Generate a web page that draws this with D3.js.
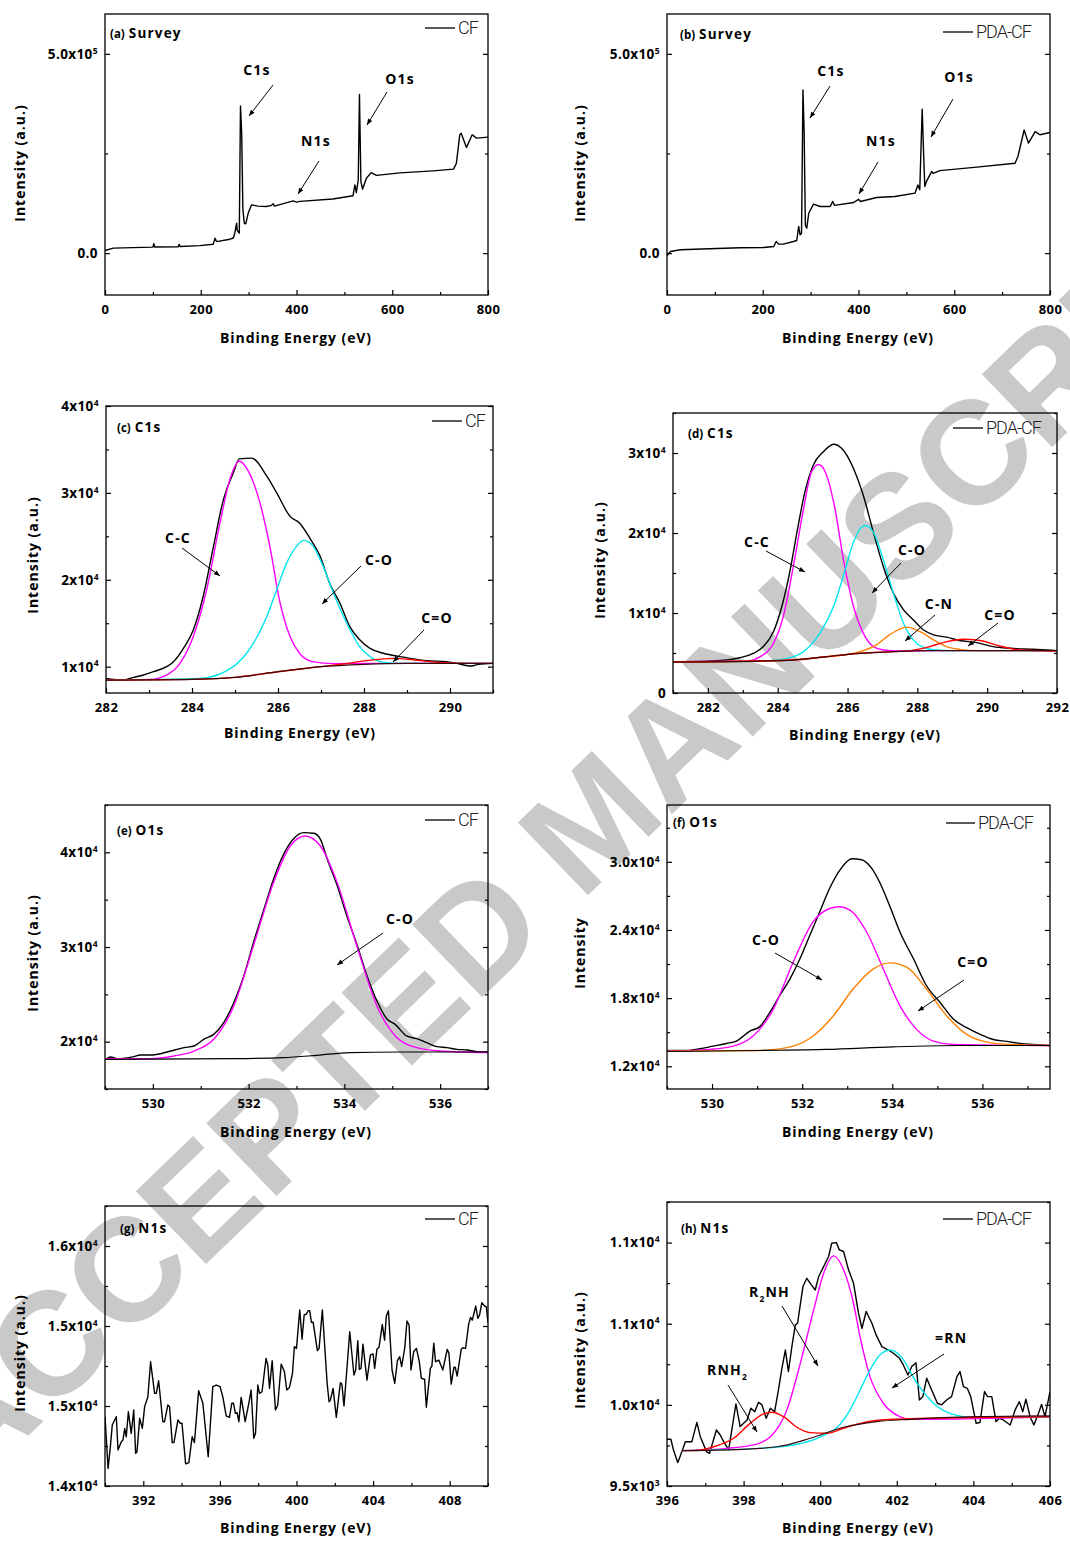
<!DOCTYPE html>
<html><head><meta charset="utf-8">
<script src="https://cdn.jsdelivr.net/npm/d3@7"></script>
<style>body{margin:0;background:#fff}svg{display:block}</style>
</head><body>
<svg id="chart" width="1070" height="1541"></svg>
<script>
// ---------------- DATA ----------------
// (a) survey CF
const surveyCF = [[0,6700],[17,12500],[100,15000],[102,24000],[104,15500],[153,16000],[155,22000],[157,16500],[198,19000],[226,22500],[230,37600],[233,29000],[261,35000],[268,38000],[271,50000],[275,75000],[276,58000],[280.5,50000],[283,369600],[285.5,300000],[288,110000],[291,75000],[294,73500],[299,100000],[306,121000],[320,118000],[337,117000],[348,120000],[351,124000],[354,118000],[393,131000],[400,128000],[407,130000],[476,136000],[518,144000],[522,171000],[525,152000],[529,184000],[531.5,398000],[534.5,180000],[538,160500],[546,188000],[556,202000],[567,195000],[616,201500],[685,206500],[728,210700],[734,225700],[741,296800],[744,301000],[755,265000],[767,297000],[776,288500],[800,291000]];
// (b) survey PDA-CF
const surveyPDA = [[0,-6700],[7,4200],[28,8400],[104,11700],[153,13400],[202,14200],[223,16700],[228,29300],[233,22600],[243,22600],[264,29300],[271,31800],[275,66900],[278,46000],[281,50000],[284,409700],[286.5,300000],[289,70000],[292,62700],[296,100000],[306,123000],[320,117000],[341,117000],[346,129600],[350,120000],[390,127000],[400,135000],[404,129600],[438,139600],[476,142000],[518,150500],[524,171000],[528,159000],[533,361000],[536,250000],[538.5,167000],[542,180000],[553,205000],[556,200000],[570,207000],[647,215700],[727,225700],[733,242500],[746,309000],[755,276000],[769,305000],[779,297000],[800,302600]];
// (c) C1s CF
const cfC1sEnvelope = [[282,8650],[282.4,8460],[282.64,8770],[282.87,9040],[283.1,9420],[283.41,10000],[283.57,10580],[283.8,12100],[284.03,14230],[284.26,18080],[284.5,23850],[284.73,29230],[284.96,32300],[285.1,33920],[285.39,34000],[285.74,31920],[285.97,30000],[286.28,27300],[286.5,26540],[286.74,24800],[286.98,22700],[287.2,19600],[287.44,17300],[287.67,14600],[287.9,13100],[288.14,12100],[288.45,11540],[288.84,11150],[289.07,10960],[289.46,10700],[289.92,10580],[290.16,10380],[290.5,10080],[290.66,10270],[291,10380]];
const cfC1sCC = [[282,8460],[283.02,8540],[283.41,9040],[283.72,10380],[284.03,13460],[284.34,18850],[284.65,26540],[284.88,31540],[285.1,33650],[285.3,32600],[285.58,28850],[285.81,23850],[286.05,17300],[286.28,13460],[286.5,11540],[286.8,10580],[287.3,10350],[288,10380],[291,10380]];
const cfC1sCO = [[282,8460],[284.19,8650],[284.96,10000],[285.43,12700],[285.74,15770],[285.97,18850],[286.2,21920],[286.43,23850],[286.6,24540],[286.82,23850],[287.05,21540],[287.29,18460],[287.6,15000],[287.9,12300],[288.2,10960],[288.53,10460],[288.84,10380],[291,10380]];
const cfC1sCdO = [[282,8460],[284,8540],[285,8770],[286,9420],[287,10000],[287.5,10300],[288.06,10690],[288.68,10960],[289.2,10770],[289.77,10460],[290.4,10380],[291,10380]];
const cfC1sBg = [[282,8460],[283,8480],[284,8540],[285,8770],[286,9420],[287,10000],[288,10270],[289,10380],[291,10380]];
// (d) C1s PDA-CF
const pdaC1sEnvelope = [[281,3910],[282,3990],[282.54,4120],[282.92,4410],[283.3,4960],[283.59,5800],[283.88,7690],[284.12,10840],[284.36,15460],[284.55,20090],[284.78,25130],[285.02,28490],[285.31,30170],[285.6,31100],[285.83,30590],[286.17,28070],[286.45,24710],[286.74,20090],[287.02,15880],[287.31,12520],[287.6,10420],[287.88,9160],[288.17,7900],[288.46,7270],[288.84,6980],[289.2,6560],[289.7,6300],[290.17,5800],[290.65,5590],[291.3,5460],[292,5300]];
const pdaC1sCC = [[281,3910],[283.1,3990],[283.5,4540],[283.88,6220],[284.16,9580],[284.45,15880],[284.74,23030],[284.97,27650],[285.17,28570],[285.4,27230],[285.64,23030],[285.88,16720],[286.17,10840],[286.45,7480],[286.74,5800],[287.02,5380],[287.5,5250],[288.5,5300],[292,5300]];
const pdaC1sCO = [[281,3870],[283.5,4000],[284.26,4330],[284.74,5170],[285.21,7480],[285.6,10840],[285.88,14620],[286.17,18830],[286.36,20510],[286.5,20930],[286.74,20090],[287.02,16720],[287.31,12520],[287.6,8740],[287.88,6640],[288.17,5710],[288.55,5380],[289,5300],[292,5300]];
const pdaC1sCN = [[281,3870],[284,4050],[285.4,4540],[285.88,4750],[286.36,5170],[286.83,6010],[287.2,7270],[287.7,8240],[288.07,7690],[288.46,6640],[288.84,5800],[289.2,5460],[289.7,5300],[292,5300]];
const pdaC1sCdO = [[281,3870],[284.45,4120],[285.4,4540],[286.36,4960],[287.31,5170],[287.8,5300],[288.27,5710],[288.74,6300],[289.3,6720],[289.8,6560],[290.36,5880],[290.93,5380],[292,5250]];
const pdaC1sBg = [[281,3870],[283.5,3990],[284.45,4120],[285.4,4540],[286.36,4960],[287.31,5170],[288.27,5300],[292,5300]];
// (e) O1s CF
const cfO1sEnvelope = [[529,18130],[529.03,18200],[529.12,18380],[529.26,18200],[529.6,18420],[529.74,18590],[529.95,18590],[530.16,18730],[530.37,19010],[530.65,19370],[530.86,19540],[531.06,20250],[531.27,20770],[531.48,22010],[531.69,24120],[531.9,26940],[532.1,30460],[532.32,33980],[532.52,37150],[532.73,39790],[532.94,41440],[533.15,42080],[533.36,42010],[533.5,41370],[533.64,39300],[533.85,36500],[534.05,33300],[534.26,30300],[534.47,27000],[534.68,24300],[534.89,22400],[535.06,21830],[535.3,20600],[535.51,20320],[535.72,19890],[535.93,19470],[536.14,19370],[536.35,19190],[536.56,19120],[536.77,18940],[537,18910]];
const cfO1sCO = [[529,18200],[529.95,18200],[530.44,18490],[530.86,19010],[531.27,20250],[531.69,23770],[532.1,30110],[532.52,36800],[532.87,40670],[533.18,41720],[533.5,40670],[533.85,36800],[534.26,30110],[534.68,23770],[535.1,20420],[535.51,19370],[536,19010],[537,18840]];
const cfO1sBg = [[529,18130],[531.69,18200],[532.73,18310],[533.43,18560],[534.12,18840],[535.17,18910],[537,18910]];
// (f) O1s PDA-CF
const pdaO1sEnvelope = [[529,13390],[529.43,13390],[529.73,13540],[530.02,13770],[530.32,14010],[530.54,14220],[530.84,15100],[531.06,15490],[531.28,16730],[531.5,18210],[531.73,19690],[531.95,21460],[532.17,23530],[532.39,25600],[532.61,27670],[532.84,29290],[533.1,30270],[533.32,30180],[533.54,29440],[533.73,28110],[533.95,26040],[534.17,23820],[534.47,21460],[534.76,19090],[535.06,17620],[535.36,16140],[535.65,15400],[535.95,14810],[536.24,14360],[536.54,14190],[536.84,14010],[537.13,13920],[537.5,13830]];
const pdaO1sCO = [[529,13330],[529.95,13480],[530.47,13770],[530.91,14660],[531.36,17030],[531.8,21160],[532.24,24710],[532.61,25890],[532.82,26040],[533.06,25750],[533.43,23820],[533.8,20570],[534.17,17320],[534.54,15250],[534.91,14220],[535.36,13920],[537.5,13830]];
const pdaO1sCdO = [[529,13330],[531.06,13390],[531.8,13770],[532.24,14660],[532.69,16430],[533.13,18800],[533.58,20570],[533.95,21100],[534.32,20720],[534.76,18800],[535.21,16430],[535.65,14810],[536.1,14130],[536.61,13920],[537.5,13830]];
const pdaO1sBg = [[529,13300],[531.06,13390],[532.54,13480],[534.02,13710],[535.5,13830],[537.5,13830]];
// (g) N1s CF
const cfN1s = [[390,14933],[390.16,14610],[390.28,14746],[390.38,14881],[390.59,14933],[390.68,14725],[390.85,14777],[390.94,14788],[391.03,14860],[391.11,14808],[391.22,14964],[391.37,14829],[391.5,14975],[391.6,14704],[391.67,14714],[391.81,14923],[391.95,14860],[392.07,14996],[392.24,15058],[392.38,15277],[392.59,15079],[392.68,15079],[392.8,15158],[393.02,14902],[393.11,14902],[393.28,15006],[393.37,14996],[393.51,14771],[393.6,14771],[393.81,14913],[393.93,14892],[394.02,14892],[394.21,14638],[394.38,14646],[394.55,14808],[394.67,14771],[394.89,15096],[395.11,15017],[395.39,14683],[395.63,15121],[395.81,15131],[396.01,15121],[396.15,15058],[396.33,14938],[396.5,14929],[396.62,15017],[396.71,15017],[396.81,14954],[396.9,14958],[396.99,14902],[397.11,15054],[397.2,14992],[397.32,14902],[397.51,15017],[397.63,15100],[397.77,14798],[397.86,14829],[397.98,15131],[398.07,15079],[398.2,15089],[398.41,15298],[398.5,15256],[398.59,15110],[398.73,15283],[398.9,14975],[399.02,15006],[399.2,15262],[399.37,15214],[399.49,15100],[399.63,15115],[399.79,15204],[399.89,15371],[400,15360],[400.17,15600],[400.29,15417],[400.4,15569],[400.52,15575],[400.61,15596],[400.69,15596],[400.78,15523],[400.87,15523],[401.09,15346],[401.18,15360],[401.35,15600],[401.6,15142],[401.7,15027],[401.77,15037],[401.91,15110],[402.08,14929],[402.29,15146],[402.37,15137],[402.48,15000],[402.6,15183],[402.78,15464],[403,15194],[403.09,15225],[403.2,15408],[403.28,15229],[403.37,15235],[403.47,15387],[403.68,15162],[403.86,15319],[404,15325],[404.08,15235],[404.2,15354],[404.31,15367],[404.48,15510],[404.6,15412],[404.69,15562],[404.8,15596],[404.99,15225],[405.13,15142],[405.27,15283],[405.39,15308],[405.49,15246],[405.65,15360],[405.77,15531],[405.88,15506],[405.98,15225],[406.12,15339],[406.26,15360],[406.4,15287],[406.52,15173],[406.69,15167],[406.78,14992],[406.99,15235],[407.07,15250],[407.17,15392],[407.26,15277],[407.43,15287],[407.64,15225],[407.87,15354],[407.96,15329],[408.08,15137],[408.22,15242],[408.29,15242],[408.39,15187],[408.6,15354],[408.69,15364],[408.83,15360],[408.99,15512],[409.09,15554],[409.18,15537],[409.36,15625],[409.47,15548],[409.56,15569],[409.68,15646],[409.82,15625],[409.91,15621],[410,15520]];
// (h) N1s PDA-CF
const pdaN1sEnvelope = [[396,9788],[396.1,9788],[396.17,9722],[396.28,9644],[396.39,9712],[396.48,9773],[396.65,9773],[396.71,9829],[396.78,9892],[396.87,9804],[397.03,9712],[397.11,9701],[397.29,9845],[397.39,9814],[397.48,9773],[397.61,9722],[397.8,10006],[397.91,9866],[398.09,9907],[398.19,9979],[398.29,9958],[398.39,10016],[398.48,10000],[398.59,9917],[398.7,9979],[398.81,9958],[398.91,10092],[399,10225],[399.09,10338],[399.17,10205],[399.26,10358],[399.35,10493],[399.41,10503],[399.46,10585],[399.55,10729],[399.65,10780],[399.77,10739],[399.87,10708],[399.96,10791],[400.09,10852],[400.22,10914],[400.3,10996],[400.42,11000],[400.5,10955],[400.61,10945],[400.74,10832],[400.87,10750],[401,10565],[401.09,10472],[401.2,10575],[401.35,10503],[401.46,10431],[401.61,10359],[401.78,10338],[401.91,10318],[402.07,10287],[402.17,10246],[402.29,10184],[402.39,10236],[402.5,10260],[402.59,10030],[402.68,10051],[402.78,10164],[402.91,10092],[403.06,10010],[403.17,10000],[403.3,10030],[403.43,10051],[403.57,10174],[403.65,10205],[403.74,10112],[403.84,10102],[403.93,10051],[404.07,9887],[404.17,9891],[404.29,10082],[404.37,10051],[404.48,10051],[404.59,9897],[404.68,9917],[404.78,9907],[404.96,9876],[405.09,9969],[405.2,10020],[405.29,9958],[405.37,10035],[405.48,9927],[405.58,9876],[405.7,9948],[405.78,10003],[405.87,9927],[406,10082]];
const pdaN1sR2NH = [[396.4,9718],[397.57,9732],[398.26,9753],[398.7,9804],[399.13,9969],[399.48,10256],[399.83,10585],[400.09,10811],[400.35,10918],[400.61,10832],[400.87,10626],[401.04,10420],[401.3,10174],[401.65,10010],[402.08,9927],[402.35,9911],[402.78,9911],[406,9927]];
const pdaN1sRN = [[396.4,9718],[398.43,9732],[399.3,9753],[399.98,9800],[400.52,9880],[400.78,9969],[401.04,10090],[401.3,10215],[401.57,10310],[401.83,10338],[402.1,10300],[402.52,10135],[402.96,10010],[403.39,9948],[404,9923],[406,9927]];
const pdaN1sRNH2 = [[396.4,9718],[396.7,9718],[397.22,9742],[397.74,9794],[398.17,9886],[398.52,9944],[398.74,9954],[399.04,9927],[399.39,9862],[399.74,9829],[400.17,9825],[400.61,9856],[401.04,9886],[401.91,9911],[406,9927]];
const pdaN1sBg = [[396.4,9718],[397.57,9722],[398.87,9742],[399.74,9794],[400.61,9862],[401.48,9897],[402.35,9911],[404.09,9927],[406,9932]];

// ticks
const xTicksSurvey=[0,200,400,600,800], xMinorSurvey=[100,300,500,700];
const yTicksSurvey=[0,500000], yLabelsSurvey=['0.0','5.0x10^5'], yMinorSurvey=[250000];
const xTicksC=[282,284,286,288,290], xMinorC=[283,285,287,289,291];
const yTicksC=[10000,20000,30000,40000], yLabelsC=['1x10^4','2x10^4','3x10^4','4x10^4'], yMinorC=[15000,25000,35000];
const xTicksD=[282,284,286,288,290,292], xMinorD=[281,283,285,287,289,291];
const yTicksD=[0,10000,20000,30000], yLabelsD=['0','1x10^4','2x10^4','3x10^4'], yMinorD=[5000,15000,25000,35000];
const xTicksE=[530,532,534,536], xMinorE=[529,531,533,535,537];
const yTicksE=[20000,30000,40000], yLabelsE=['2x10^4','3x10^4','4x10^4'], yMinorE=[15000,25000,35000,45000];
const xTicksF=[530,532,534,536], xMinorF=[529,531,533,535,537];
const yTicksF=[12000,18000,24000,30000], yLabelsF=['1.2x10^4','1.8x10^4','2.4x10^4','3.0x10^4'], yMinorF=[15000,21000,27000,33000];
const xTicksG=[392,396,400,404,408], xMinorG=[390,394,398,402,406,410];
const yTicksG=[14500,15000,15500,16000], yLabelsG=['1.4x10^4','1.5x10^4','1.5x10^4','1.6x10^4'], yMinorG=[14750,15250,15750,16250];
const xTicksH=[396,398,400,402,404,406], xMinorH=[397,399,401,403,405];
const yTicksH=[9500,10000,10500,11000], yLabelsH=['9.5x10^3','1.0x10^4','1.1x10^4','1.1x10^4'], yMinorH=[9750,10250,10750,11250];

const MAG='#ff00ff', CYA='#00e5ee', ORA='#ff8000', RED='#ff0000', BLK='#000', BGC='#3a0808';

// ---------------- LAYOUT ----------------
const panels = [
 {id:'a', box:[105,14,488,295], xd:[0,800], yd:[-105000,600000], xt:xTicksSurvey, xm:xMinorSurvey, yt:yTicksSurvey, yl:yLabelsSurvey, ym:yMinorSurvey,
  tag:['(a)','Survey',110,38], leg:[425,455,28,'CF'], ytitle:[20,163,'Intensity (a.u.)'], xtitle:[296,343],
  series:[{data:surveyCF,color:BLK}],
  ann:[{t:'C1s',x:257,y:75,a:[273,85,249,116]},{t:'N1s',x:316,y:146,a:[319,161,298,194]},{t:'O1s',x:400,y:84,a:[387,92,367,125]}]},
 {id:'b', box:[667,14,1050,295], xd:[0,800], yd:[-105000,600000], xt:xTicksSurvey, xm:xMinorSurvey, yt:yTicksSurvey, yl:yLabelsSurvey, ym:yMinorSurvey,
  tag:['(b)','Survey',680,39], leg:[943,973,32,'PDA-CF'], ytitle:[580,163,'Intensity (a.u.)'], xtitle:[858,343],
  series:[{data:surveyPDA,color:BLK}],
  ann:[{t:'C1s',x:831,y:76,a:[830,86,810,118]},{t:'N1s',x:881,y:146,a:[878,162,859,194]},{t:'O1s',x:959,y:82,a:[953,99,931,137]}]},
 {id:'c', box:[106,406,493,693], xd:[282,291], yd:[6970,40000], xt:xTicksC, xm:xMinorC, yt:yTicksC, yl:yLabelsC, ym:yMinorC,
  tag:['(c)','C1s',117,432], leg:[432,462,421,'CF'], ytitle:[33,555,'Intensity (a.u.)'], xtitle:[300,738],
  series:[{data:cfC1sEnvelope,color:BLK,smooth:1},{data:cfC1sCC,color:MAG,smooth:1},{data:cfC1sCO,color:CYA,smooth:1},{data:cfC1sCdO,color:RED,smooth:1},{data:cfC1sBg,color:BGC,smooth:1,width:1.2}],
  ann:[{t:'C-C',x:178,y:543,a:[182,548,220,576]},{t:'C-O',x:379,y:565,a:[361,566,322,604]},{t:'C=O',x:437,y:623,a:[424,630,393,662]}]},
 {id:'d', box:[673,413,1057,693], xd:[281,292], yd:[0,35000], xt:xTicksD, xm:xMinorD, yt:yTicksD, yl:yLabelsD, ym:yMinorD,
  tag:['(d)','C1s',688,438], leg:[953,983,428,'PDA-CF'], ytitle:[600,560,'Intensity (a.u.)'], xtitle:[865,740],
  series:[{data:pdaC1sEnvelope,color:BLK,smooth:1},{data:pdaC1sCC,color:MAG,smooth:1},{data:pdaC1sCO,color:CYA,smooth:1},{data:pdaC1sCN,color:ORA,smooth:1},{data:pdaC1sCdO,color:RED,smooth:1},{data:pdaC1sBg,color:BGC,smooth:1,width:1.2}],
  ann:[{t:'C-C',x:757,y:547,a:[766,551,805,572]},{t:'C-O',x:912,y:555,a:[901,563,872,593]},{t:'C-N',x:939,y:609,a:[935,615,905,641]},{t:'C=O',x:1000,y:620,a:[998,623,968,646]}]},
 {id:'e', box:[105,805,488,1089], xd:[529,537], yd:[15000,45000], xt:xTicksE, xm:xMinorE, yt:yTicksE, yl:yLabelsE, ym:yMinorE,
  tag:['(e)','O1s',117,835], leg:[425,455,820,'CF'], ytitle:[33,953,'Intensity (a.u.)'], xtitle:[296,1137],
  series:[{data:cfO1sEnvelope,color:BLK,smooth:1},{data:cfO1sCO,color:MAG,smooth:1},{data:cfO1sBg,color:BLK,smooth:1,width:1.2}],
  ann:[{t:'C-O',x:400,y:924,a:[383,933,337,965]}]},
 {id:'f', box:[667,805,1050,1089], xd:[529,537.5], yd:[10000,35000], xt:xTicksF, xm:xMinorF, yt:yTicksF, yl:yLabelsF, ym:yMinorF,
  tag:['(f)','O1s',673,827], leg:[946,975,823,'PDA-CF'], ytitle:[580,953,'Intensity'], xtitle:[858,1137],
  series:[{data:pdaO1sEnvelope,color:BLK,smooth:1},{data:pdaO1sCO,color:MAG,smooth:1},{data:pdaO1sCdO,color:ORA,smooth:1},{data:pdaO1sBg,color:BLK,smooth:1,width:1.2}],
  ann:[{t:'C-O',x:766,y:945,a:[775,953,822,980]},{t:'C=O',x:973,y:967,a:[964,980,918,1011]}]},
 {id:'g', box:[105,1206,488,1486], xd:[390,410], yd:[14500,16250], xt:xTicksG, xm:xMinorG, yt:yTicksG, yl:yLabelsG, ym:yMinorG,
  tag:['(g)','N1s',120,1233], leg:[425,455,1219,'CF'], ytitle:[20,1353,'Intensity (a.u.)'], xtitle:[296,1533],
  series:[{data:cfN1s,color:BLK}], ann:[]},
 {id:'h', box:[667,1202,1050,1486], xd:[396,406], yd:[9500,11250], xt:xTicksH, xm:xMinorH, yt:yTicksH, yl:yLabelsH, ym:yMinorH,
  tag:['(h)','N1s',681,1233], leg:[943,973,1219,'PDA-CF'], ytitle:[580,1350,'Intensity (a.u.)'], xtitle:[858,1533],
  series:[{data:pdaN1sEnvelope,color:BLK},{data:pdaN1sR2NH,color:MAG,smooth:1},{data:pdaN1sRN,color:CYA,smooth:1},{data:pdaN1sRNH2,color:RED,smooth:1},{data:pdaN1sBg,color:BGC,smooth:1,width:1.2}],
  ann:[{t:'R_2NH',x:749,y:1297,anchor:'start',a:[782,1306,818,1366]},{t:'RNH_2',x:707,y:1375,anchor:'start',a:[728,1385,757,1432]},{t:'=RN',x:935,y:1343,anchor:'start',a:[944,1354,892,1388]}]}
];

// ---------------- DRAW ----------------
const FONT='"Open Sans","Noto Sans",sans-serif';
const svg=d3.select('#chart');
const defs=svg.append('defs');
defs.append('marker').attr('id','arrow').attr('viewBox','0 0 10 10').attr('refX',10).attr('refY',5)
  .attr('markerWidth',7).attr('markerHeight',6).attr('markerUnits','userSpaceOnUse').attr('orient','auto')
  .append('path').attr('d','M0,1L10,5L0,9Z').attr('fill','#000');

// watermark
svg.append('text').attr('transform','translate(-30,1492) rotate(-44)')
  .attr('font-family','"Liberation Sans",Arial,sans-serif').attr('font-weight',700).attr('font-size',147)
  .attr('fill','#c9c9c9').text('ACCEPTED MANUSCRIPT');

function styleAxis(sel){
  sel.select('.domain').remove();
  sel.attr('font-family',null).attr('font-size',null);
  sel.selectAll('line').attr('stroke','#000').attr('stroke-width',1.2);
  sel.selectAll('text').attr('font-family',FONT).attr('font-weight',700).attr('font-size',13).attr('fill','#000').attr('letter-spacing',0.4);
}
function supLabels(sel){
  sel.selectAll('text').attr('font-size',13.5).each(function(){
    const t=d3.select(this); const s=t.text();
    if(s.includes('^')){const [m,e]=s.split('^'); t.text(null); t.append('tspan').text(m); t.append('tspan').attr('dy','-0.6em').attr('font-size',8.5).text(e);}
  });
}
function richText(el,str,size){
  // '_' marks a subscript character
  const parts=str.split(/(_.)/).filter(p=>p);
  let shift=0;
  parts.forEach(p=>{
    if(p[0]==='_'){ el.append('tspan').attr('dy',(size*0.35)+'px').attr('font-size',size*0.6).text(p[1]); shift=-size*0.35; }
    else { const ts=el.append('tspan').text(p); if(shift){ts.attr('dy',shift+'px'); shift=0;} }
  });
}

panels.forEach(P=>{
  const [L,T,R,B]=P.box;
  const x=d3.scaleLinear().domain(P.xd).range([L,R]);
  const y=d3.scaleLinear().domain(P.yd).range([B,T]);
  const g=svg.append('g');
  defs.append('clipPath').attr('id','clip-'+P.id).append('rect').attr('x',L).attr('y',T).attr('width',R-L).attr('height',B-T);
  const plot=g.append('g').attr('clip-path',`url(#clip-${P.id})`);
  P.series.forEach(s=>{
    const line=d3.line().x(d=>x(d[0])).y(d=>y(d[1])).curve(s.smooth?d3.curveMonotoneX:d3.curveLinear);
    plot.append('path').datum(s.data).attr('d',line).attr('fill','none').attr('stroke',s.color)
      .attr('stroke-width',s.width||1.4).attr('stroke-linejoin','round');
  });
  // axes
  g.append('g').attr('transform',`translate(0,${B})`).call(d3.axisBottom(x).tickValues(P.xt).tickSizeInner(-5).tickSizeOuter(0).tickPadding(10).tickFormat(d3.format('d'))).call(styleAxis);
  g.append('g').attr('transform',`translate(0,${B})`).call(d3.axisBottom(x).tickValues(P.xm).tickSizeInner(-3).tickSizeOuter(0).tickFormat('')).call(styleAxis);
  g.append('g').attr('transform',`translate(${L},0)`).call(d3.axisLeft(y).tickValues(P.yt).tickSizeInner(-5).tickSizeOuter(0).tickPadding(7).tickFormat((d,i)=>P.yl[i])).call(styleAxis).call(supLabels);
  g.append('g').attr('transform',`translate(${L},0)`).call(d3.axisLeft(y).tickValues(P.ym).tickSizeInner(-3).tickSizeOuter(0).tickFormat('')).call(styleAxis);
  g.append('g').attr('transform',`translate(${R},0)`).call(d3.axisRight(y).tickValues(P.yt).tickSizeInner(-5).tickSizeOuter(0).tickFormat('')).call(styleAxis);
  g.append('g').attr('transform',`translate(${R},0)`).call(d3.axisRight(y).tickValues(P.ym).tickSizeInner(-3).tickSizeOuter(0).tickFormat('')).call(styleAxis);
  g.append('rect').attr('x',L).attr('y',T).attr('width',R-L).attr('height',B-T).attr('fill','none').attr('stroke','#000').attr('stroke-width',1.3);
  // titles
  g.append('text').attr('x',P.xtitle[0]).attr('y',P.xtitle[1]).attr('text-anchor','middle').attr('font-family',FONT).attr('font-weight',700).attr('font-size',14).attr('letter-spacing',0.9).text('Binding Energy (eV)');
  g.append('text').attr('transform',`translate(${P.ytitle[0]},${P.ytitle[1]}) rotate(-90)`).attr('text-anchor','middle').attr('dy','0.35em').attr('font-family',FONT).attr('font-weight',700).attr('font-size',14).attr('letter-spacing',1).text(P.ytitle[2]);
  // panel tag
  const tg=g.append('text').attr('x',P.tag[2]).attr('y',P.tag[3]).attr('font-family',FONT).attr('font-weight',700);
  tg.append('tspan').attr('font-size',11.5).text(P.tag[0]);
  tg.append('tspan').attr('dx',4).attr('font-size',13.5).attr('letter-spacing',1.2).text(P.tag[1]);
  // legend
  g.append('line').attr('x1',P.leg[0]).attr('x2',P.leg[1]).attr('y1',P.leg[2]).attr('y2',P.leg[2]).attr('stroke','#000').attr('stroke-width',1.3);
  g.append('text').attr('x',P.leg[1]+3).attr('y',P.leg[2]+6).attr('font-family','Roboto,"Liberation Sans",sans-serif').attr('font-weight',300).attr('font-size',18).attr('letter-spacing',-1).attr('fill','#222').text(P.leg[3]);
  // annotations
  P.ann.forEach(a=>{
    const t=g.append('text').attr('x',a.x).attr('y',a.y).attr('text-anchor',a.anchor||'middle').attr('font-family',FONT).attr('font-weight',700).attr('font-size',14).attr('letter-spacing',1.2);
    richText(t,a.t,14);
    g.append('line').attr('x1',a.a[0]).attr('y1',a.a[1]).attr('x2',a.a[2]).attr('y2',a.a[3]).attr('stroke','#000').attr('stroke-width',1).attr('marker-end','url(#arrow)');
  });
});
</script>
</body></html>
